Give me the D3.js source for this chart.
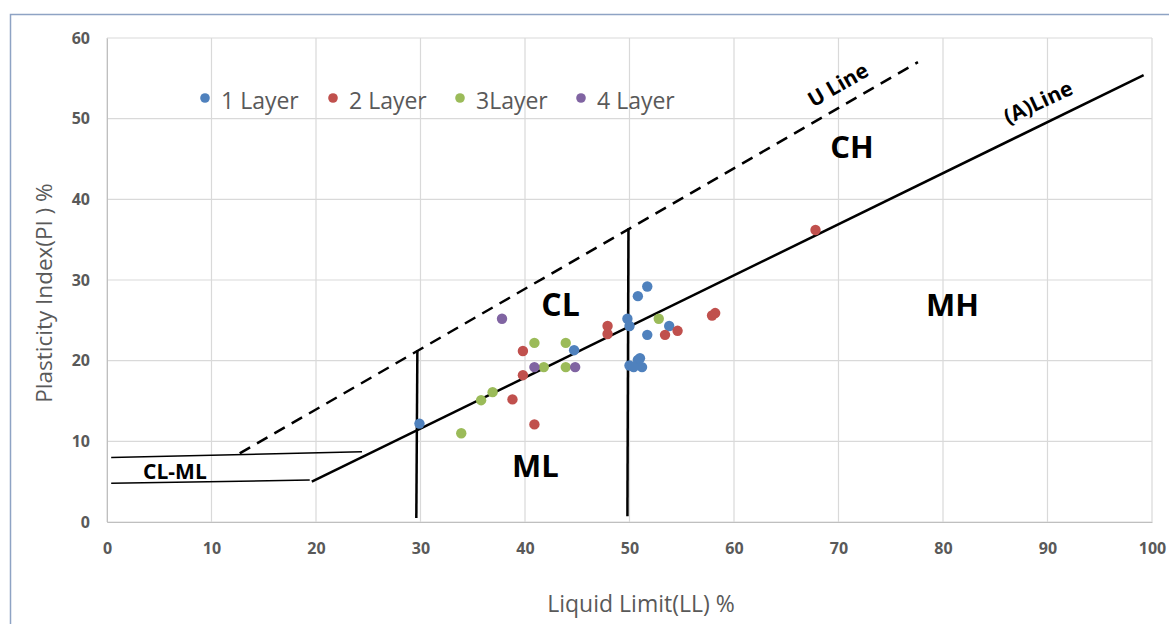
<!DOCTYPE html>
<html>
<head>
<meta charset="utf-8">
<script src="https://cdn.jsdelivr.net/npm/d3@7"></script>
<style>
  body { margin: 0; background: #fff; }
  svg { display: block; font-family: "Open Sans", sans-serif; }
</style>
</head>
<body>
<svg id="chart" width="1169" height="624"></svg>
<script>
// 塑性图数据
const layerNames = ["1 Layer", "2 Layer", "3Layer", "4 Layer"];
const layerColors = ["#4F81BD", "#C0504D", "#9BBB59", "#8064A2"];

const layer1 = [[51.7, 29.2], [50.8, 28.0], [49.8, 25.2], [50.0, 24.3], [53.8, 24.3], [51.7, 23.2],
    [44.7, 21.3], [50.0, 19.4], [50.8, 20.1], [51.0, 20.3], [51.2, 19.2], [50.4, 19.2], [29.9, 12.2]];
const layer2 = [[47.9, 24.3], [47.9, 23.3], [53.4, 23.2], [54.6, 23.7], [39.8, 21.2], [39.8, 18.2],
    [38.8, 15.2], [40.9, 12.1], [57.9, 25.6], [58.2, 25.9], [67.8, 36.2]];
const layer3 = [[40.9, 22.2], [43.9, 22.2], [41.8, 19.2], [43.9, 19.2], [36.9, 16.1], [35.8, 15.1],
    [33.9, 11.0], [52.8, 25.2]];
const layer4 = [[37.8, 25.2], [40.9, 19.2], [44.8, 19.2]];
const layers = [layer1, layer2, layer3, layer4];

// 分界线
const aLine = [[19.6, 5.0], [99.2, 55.4]];
const uLine = [[12.7, 8.5], [77.6, 57.0]];
const clmlLower = [[0.4, 4.8], [19.4, 5.2]];
const clmlUpper = [[0.4, 8.0], [24.4, 8.7]];
const vLine30 = [[29.7, 21.3], [29.6, 0.5]];
const vLine50 = [[49.9, 36.4], [49.8, 0.7]];

const xTicks = [0, 10, 20, 30, 40, 50, 60, 70, 80, 90, 100];
const yTicks = [0, 10, 20, 30, 40, 50, 60];

// 区域标签
const zoneLabels = [
    { text: "CL", x: 43.4, y: 25.5 },
    { text: "CH", x: 71.3, y: 45.1 },
    { text: "MH", x: 80.9, y: 25.5 },
    { text: "ML", x: 41.0, y: 5.6 }
];

const svg = d3.select("#chart");
const margin = { left: 107, top: 38, right: 1152, bottom: 522 };

const x = d3.scaleLinear().domain([0, 100]).range([margin.left, margin.right]);
const y = d3.scaleLinear().domain([0, 60]).range([margin.bottom, margin.top]);

// 外框
svg.append("rect")
    .attr("x", 10.5).attr("y", 14.5)
    .attr("width", 1170).attr("height", 640)
    .attr("fill", "none")
    .attr("stroke", "#8EA3C4")
    .attr("stroke-width", 1.5);

// 网格线
const grid = svg.append("g");
grid.selectAll(".gx").data(xTicks).join("line")
    .attr("x1", d => x(d)).attr("x2", d => x(d))
    .attr("y1", y(0)).attr("y2", y(60))
    .attr("stroke", "#D9D9D9").attr("stroke-width", 1.2);
grid.selectAll(".gy").data(yTicks).join("line")
    .attr("x1", x(0)).attr("x2", x(100))
    .attr("y1", d => y(d)).attr("y2", d => y(d))
    .attr("stroke", "#D9D9D9").attr("stroke-width", 1.2);

// 坐标轴刻度
const xAxis = svg.append("g")
    .attr("transform", `translate(0,${y(0)})`)
    .call(d3.axisBottom(x).tickValues(xTicks).tickSize(0).tickPadding(21));
const yAxis = svg.append("g")
    .attr("transform", `translate(${x(0)},0)`)
    .call(d3.axisLeft(y).tickValues(yTicks).tickSize(0).tickPadding(17));
[xAxis, yAxis].forEach(a => {
    a.select(".domain").attr("stroke", "#BFBFBF");
    a.selectAll("text")
        .attr("fill", "#595959")
        .attr("font-size", "16px")
        .attr("font-weight", "bold")
        .attr("font-family", "'Open Sans', sans-serif");
});

// 坐标轴标题
svg.append("text")
    .attr("x", 641).attr("y", 612)
    .attr("text-anchor", "middle")
    .attr("font-size", "23px")
    .attr("fill", "#595959")
    .text("Liquid Limit(LL) %");
svg.append("text")
    .attr("transform", "translate(52,293) rotate(-90)")
    .attr("text-anchor", "middle")
    .attr("font-size", "22.5px")
    .attr("fill", "#595959")
    .text("Plasticity Index(PI ) %");

// 绘制线条
const line = d3.line().x(d => x(d[0])).y(d => y(d[1]));
const drawLine = (data, w, dash) => svg.append("path")
    .datum(data)
    .attr("d", line)
    .attr("fill", "none")
    .attr("stroke", "#000")
    .attr("stroke-width", w)
    .attr("stroke-dasharray", dash || null);

drawLine(clmlLower, 1.5);
drawLine(clmlUpper, 1.5);
drawLine(uLine, 2.5, "12,8");
drawLine(aLine, 2.5);
drawLine(vLine30, 2.5);
drawLine(vLine50, 2.5);

// 数据点
layers.forEach((pts, i) => {
    svg.append("g").selectAll("circle")
        .data(pts)
        .join("circle")
        .attr("cx", d => x(d[0]))
        .attr("cy", d => y(d[1]))
        .attr("r", 5.2)
        .attr("fill", layerColors[i]);
});

// 区域标签
svg.selectAll(".zone").data(zoneLabels).join("text")
    .attr("x", d => x(d.x)).attr("y", d => y(d.y))
    .attr("text-anchor", "middle")
    .attr("font-size", d => d.text === "CL" ? "32px" : "31px")
    .attr("font-weight", "bold")
    .attr("fill", "#000")
    .text(d => d.text);

svg.append("text")
    .attr("x", x(6.5)).attr("y", y(5.3))
    .attr("text-anchor", "middle")
    .attr("font-size", "21px")
    .attr("font-weight", "bold")
    .text("CL-ML");

svg.append("text")
    .attr("transform", `translate(${x(70.3)},${y(53.4)}) rotate(-30)`)
    .attr("text-anchor", "middle")
    .attr("font-size", "21px")
    .attr("font-weight", "bold")
    .text("U Line");
svg.append("text")
    .attr("transform", `translate(${x(89.4)},${y(51.2)}) rotate(-25)`)
    .attr("text-anchor", "middle")
    .attr("font-size", "21px")
    .attr("font-weight", "bold")
    .text("(A)Line");

// 图例
const legendX = [205, 333, 460, 581];
const legend = svg.append("g");
layerNames.forEach((name, i) => {
    legend.append("circle")
        .attr("cx", legendX[i]).attr("cy", 98)
        .attr("r", 4.8)
        .attr("fill", layerColors[i]);
    legend.append("text")
        .attr("x", legendX[i] + 16).attr("y", 109)
        .attr("font-size", "23px")
        .attr("fill", "#595959")
        .text(name);
});
</script>
</body>
</html>
